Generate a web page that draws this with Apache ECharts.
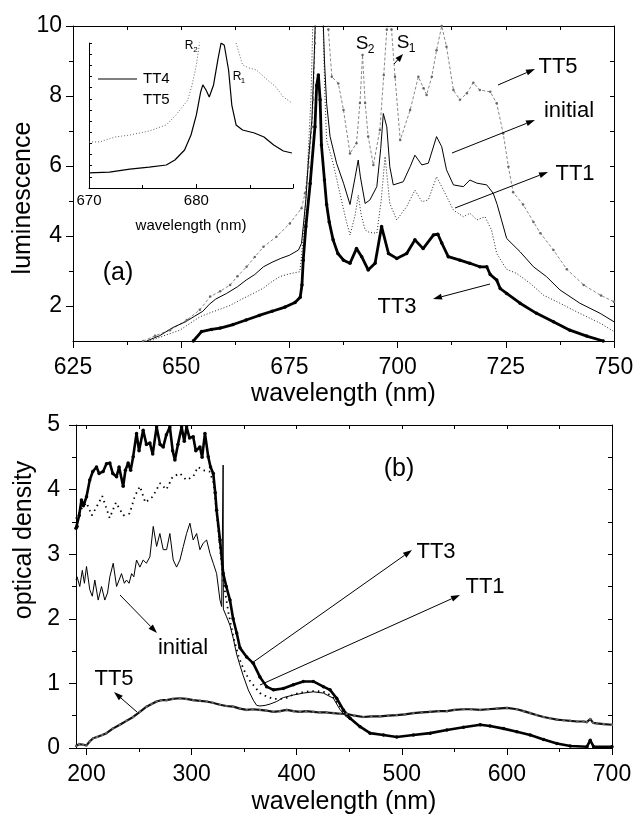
<!DOCTYPE html>
<html><head><meta charset="utf-8">
<script src="https://cdn.jsdelivr.net/npm/echarts@6/dist/echarts.min.js"></script>
<style>html,body{margin:0;padding:0;background:#fff}#c{width:638px;height:822px}</style>
</head><body><div id="c"></div><script>
// ---------- (a) luminescence, wavelength (nm) ----------
const lumTT5 = [[641.2,1.0],[644,1.15],[647.4,1.31],[651.3,1.6],[654.3,1.89],[656.7,2.27],[659,2.42],[661.3,2.6],[663,2.85],[665.1,3.12],[667,3.4],[669,3.69],[672,3.98],[675.1,4.36],[677.8,4.79],[678.6,5.22],[679.4,5.98],[680.2,7.12],[680.5,7.89],[680.9,9.5],[681.3,11],[683.4,11],[684,9.9],[684.8,8.55],[686.3,8.36],[687.5,7.6],[689,6.36],[690.5,6.65],[691.3,7.8],[691.9,9.17],[692.5,7.8],[693.2,6.84],[694.4,6.03],[695.9,7.03],[696.8,8.6],[697.5,9.89],[697.9,10.4],[698.6,9.9],[699.4,8.55],[700.6,6.74],[702.9,7.6],[704.8,8.55],[706,8.22],[706.7,8.03],[707.9,8.55],[709,9.31],[710.2,10.0],[711.3,9.41],[712.9,8.17],[714.4,7.89],[716,8.08],[717.5,8.38],[719,8.17],[721.4,8.12],[722.9,7.79],[724.4,6.93],[725.6,5.98],[726.7,5.25],[729,4.9],[731.4,4.4],[733,4.08],[736,3.6],[739.1,3.05],[743,2.6],[747,2.3],[750,2.12]];
const lumInitial = [[642,1.0],[645,1.15],[648,1.38],[651,1.55],[653,1.7],[655,1.85],[656.5,2.05],[658,2.2],[660.5,2.36],[663,2.55],[665,2.74],[667,2.9],[669,3.12],[671,3.25],[673,3.36],[675,3.45],[677.1,3.6],[677.8,3.79],[678.2,4.27],[678.8,5.03],[679.4,6.17],[680.2,7.31],[680.7,9],[681.2,11],[682.6,11],[683.1,9],[683.6,7.79],[684.4,6.84],[685.9,6.08],[687.5,5.51],[689,4.9],[690.2,5.69],[690.9,6.17],[691.4,5.69],[692.5,4.93],[693.6,5.03],[695.2,5.41],[696.1,6.5],[696.7,7.5],[697.5,7.12],[698.2,5.98],[699,5.46],[701.3,5.55],[702.9,5.98],[704,6.31],[705.6,6.03],[707.1,6.08],[709,6.84],[710.2,6.55],[711.3,5.89],[712.9,5.46],[715.2,5.41],[716.7,5.6],[718.3,5.51],[720.6,5.46],[722.1,5.22],[723,4.9],[724,4.46],[725.2,3.93],[728.3,3.55],[731.4,3.12],[734.4,2.84],[737.5,2.46],[742.1,2.08],[746.8,1.79],[750,1.55]];
const lumTT1 = [[642.8,1.0],[646,1.15],[649.7,1.31],[652,1.5],[654.3,1.69],[657,1.82],[659,1.91],[661,2.0],[664.4,2.22],[667,2.38],[669,2.51],[671,2.7],[672.8,2.84],[675,2.92],[677.4,2.98],[677.8,3.41],[678.5,4.5],[679.2,6],[680,8],[680.6,11],[682.6,11],[683.2,8],[683.6,6.74],[685.1,6.08],[686.7,5.2],[688,4.5],[689,4.03],[690.2,4.6],[690.9,5.17],[691.6,4.6],[692.5,4.17],[693.5,4.1],[695.2,4.08],[696.2,5.0],[697.1,6.27],[698.2,4.93],[699.8,4.46],[702.1,4.84],[704,5.31],[705.6,4.98],[707.1,5.03],[709,5.69],[710.6,5.31],[712.9,4.74],[715.2,4.55],[716.7,4.65],[718.3,4.46],[720.2,4.55],[721.7,4.17],[722.9,3.5],[724.4,3.2],[725.2,3.05],[727.5,2.93],[730.6,2.65],[733.7,2.31],[737.5,2.08],[742.1,1.79],[746.8,1.51],[750,1.27]];
const lumTT3 = [[652.8,1.0],[654.7,1.27],[657,1.33],[659,1.37],[662,1.47],[665,1.6],[668,1.73],[671,1.85],[674,1.97],[676.3,2.1],[677.5,2.25],[677.9,2.6],[678.2,3.31],[678.8,4.27],[679.8,5.5],[680.9,7.12],[681.3,8.3],[681.7,8.6],[682.1,7.89],[682.4,6.6],[683.1,5.6],[683.6,4.9],[684.2,4.4],[685.1,3.89],[686.2,3.5],[687.5,3.31],[689,3.22],[690.5,3.64],[691.7,3.41],[693.2,3.03],[694.8,3.22],[696.3,4.27],[697.9,3.5],[699.8,3.36],[702.1,3.5],[704,3.89],[705.9,3.64],[708.3,4.03],[709.3,4.05],[710.2,3.8],[711.7,3.41],[714.4,3.31],[716.7,3.22],[719,3.12],[720.6,3.12],[721.4,2.9],[722.9,2.74],[723.7,2.5],[725.2,2.36],[728.3,2.08],[732.1,1.79],[736,1.55],[739.8,1.31],[743.7,1.14],[747.5,1.0]];
// inset (relative units)
const insetTT4 = [[670,1.35],[671.9,1.43],[673.8,1.7],[675.6,1.88],[677.2,2.06],[678,2.51],[678.9,3.41],[679.5,4.75],[680,6.55],[680.4,8.61],[680.6,9.24],[680.9,8.79],[681.2,8.16],[681.6,9.24],[682,11.48],[682.3,13.0],[682.6,12.8],[683,10.58],[683.3,7.44],[683.7,5.65],[684.3,5.2],[685.4,4.93],[686.3,4.57],[687.2,3.86],[688.1,3.32],[688.9,3.14]];
const insetTT5 = [[670,4.13],[671,4.13],[672.4,4.57],[673.8,4.75],[675.6,5.11],[677.2,5.65],[678.1,6.55],[679.2,7.89],[679.6,9.24],[680,11.03],[680.3,13.0],[680.6,15],[683.4,15],[683.7,13.0],[684.3,11.03],[684.9,10.76],[685.6,10.58],[686.3,9.96],[687.4,9.06],[688.1,8.16],[688.9,7.62]];
// ---------- (b) optical density, wavelength (nm) ----------
const odTT3 = [[190,3.4],[191,3.43],[193,3.6],[195.2,3.84],[197,3.75],[200,3.89],[203.1,4.15],[206,4.28],[209.5,4.35],[212,4.25],[215.8,4.28],[219,4.4],[222.2,4.41],[225,4.25],[228.6,4.2],[231,4.35],[234.9,4.05],[237,4.3],[239.6,4.41],[242,4.3],[244.4,4.51],[247.6,4.87],[250,4.6],[253.9,4.92],[257,4.7],[260.3,4.72],[263,4.55],[266.7,4.97],[270,4.7],[273,4.66],[276,4.85],[279.3,4.97],[282,4.6],[284.1,4.46],[287,4.7],[290.5,4.97],[293,4.75],[295.2,4.97],[298,4.8],[301.5,4.82],[304,4.6],[307.9,4.66],[310,4.5],[312.7,4.87],[315.8,4.51],[318,4.35],[320.6,4.25],[322.5,3.95],[323.8,3.68],[327,3.22],[330.1,2.7],[333,2.5],[336.5,2.29],[339.5,2.0],[342.9,1.78],[346,1.55],[352.4,1.41],[358.7,1.31],[365,1.1],[371.4,0.95],[377.8,0.9],[387.2,0.92],[396.8,0.98],[406.3,1.03],[415.8,1.03],[425.4,0.95],[431.7,0.9],[438,0.77],[444.4,0.59],[450.8,0.46],[460.3,0.33],[469.8,0.23],[482.5,0.2],[495.2,0.17],[511,0.2],[527,0.23],[542.9,0.28],[558.7,0.32],[574.6,0.36],[584,0.34],[596.8,0.3],[609.5,0.25],[622.2,0.2],[634.9,0.13],[647.6,0.07],[660.3,0.03],[676.2,0.02],[679.3,0.12],[682.5,0.02],[700,0.02]];
const odTT1 = [[190,3.55],[195,3.7],[200,3.8],[205,3.6],[209.5,3.73],[215,3.9],[222,3.56],[228,3.8],[235,3.6],[241,3.63],[246,3.9],[250.8,4.05],[256,3.8],[263,3.89],[270,4.1],[276,4.0],[282,4.2],[288.9,4.25],[295,4.15],[301.5,4.2],[306,4.35],[311,4.3],[317,4.28],[321,4.1],[324,3.6],[327,3.1],[330,2.6],[335,2.1],[340,1.7],[345,1.4],[350,1.2],[355,1.05],[360,0.95],[365,0.85],[371,0.8],[378,0.76],[384,0.76],[391,0.78],[397,0.83],[405,0.86],[412,0.88],[420,0.88],[428,0.86],[435,0.78],[441,0.65],[446,0.52],[451,0.45],[460,0.33]];
const odInitial = [[190,2.6],[191,2.65],[193.6,2.5],[196,2.75],[198,2.55],[200,2.81],[203.1,2.45],[205.5,2.35],[207.9,2.6],[211.1,2.29],[214.3,2.5],[217.4,2.29],[220,2.4],[222.2,2.65],[225.4,2.86],[228.6,2.5],[231,2.6],[233.3,2.7],[236,2.55],[238.1,2.6],[240.5,2.55],[242.9,2.7],[245,2.65],[247.6,2.91],[250.8,2.8],[253.9,2.91],[257,2.86],[260.3,2.96],[263.5,3.43],[266.7,3.12],[269.8,3.32],[273,3.07],[276.2,3.07],[279.3,3.32],[282.5,2.91],[285.7,2.8],[288.9,2.91],[292.1,3.12],[295.2,3.32],[298.4,3.48],[301.5,3.22],[304.8,3.32],[307.9,3.07],[311,3.17],[314.3,3.22],[317.5,3.01],[320.6,2.86],[323.8,2.7],[327,2.29],[328.6,2.19],[329.8,2.2],[330,4.38],[330.2,2.15],[333.3,2.03],[336.5,1.9],[339.6,1.7],[342.9,1.45],[346,1.28],[349.1,1.12],[353.9,0.9],[358.7,0.74],[361.9,0.66],[365,0.65],[370,0.66],[374.6,0.68],[381,0.72],[387.2,0.78],[396.8,0.82],[406.3,0.85],[415.8,0.87],[425.4,0.85],[434.9,0.77],[441,0.6],[446,0.5],[451,0.44]];
const odTT5 = [[190,0.03],[193,0.06],[196.8,0.05],[200,0.04],[203,0.1],[206.3,0.15],[210,0.17],[215,0.2],[219,0.23],[225,0.3],[231.7,0.36],[238,0.42],[244.4,0.48],[250.8,0.56],[257.1,0.64],[262,0.68],[266.7,0.72],[271,0.74],[276.2,0.74],[282,0.76],[288.9,0.77],[295,0.76],[301.6,0.74],[308,0.73],[314.3,0.72],[320,0.7],[327,0.67],[333,0.65],[339.6,0.64],[346,0.61],[352.4,0.59],[358,0.6],[365,0.59],[371,0.58],[377.8,0.56],[384,0.57],[390.5,0.59],[397,0.57],[403.1,0.56],[409,0.57],[415.8,0.56],[422,0.55],[428.6,0.55],[435,0.54],[441.3,0.53],[447.6,0.53],[455,0.5],[463.5,0.48],[471,0.49],[479.4,0.49],[487,0.5],[495.2,0.51],[503,0.52],[511,0.54],[519,0.55],[527,0.56],[535,0.57],[542.9,0.57],[550,0.59],[558.7,0.6],[566,0.6],[574.6,0.59],[582,0.6],[590.5,0.61],[600,0.62],[609.5,0.6],[616,0.57],[622.2,0.54],[628,0.51],[634.9,0.48],[641,0.46],[647.6,0.44],[654,0.43],[660.3,0.42],[667,0.41],[673,0.41],[676,0.4],[679.3,0.45],[682,0.39],[685.7,0.38],[692,0.37],[700,0.36]];
// tick values
const yLabelsA = [2,4,6,8,10];
const yMinorA = [3,5,7,9];
const xLabelsB = [200,300,400,500,600,700];
const xMinorB = [250,350,450,550,650];
const xTopB = [200,250,300,350,400,450,500,550,600,650,700];

const FONT = 'Liberation Sans, Arial, Helvetica, sans-serif';
const K = '#000';
function ax(extra){
  return Object.assign({type:'value', splitLine:{show:false},
    axisLine:{show:true, onZero:false, lineStyle:{color:K, width:1}},
    axisLabel:{show:false}, axisTick:{show:false}, minorTick:{show:false}}, extra);
}
const tick = (o)=>Object.assign({show:true, lineStyle:{color:K, width:1}}, o);
const lab = (o)=>Object.assign({show:true, color:K, fontFamily:FONT}, o);

function mk(name, data, xi, yi, extra){
  return Object.assign({type:'line', name, data, xAxisIndex:xi, yAxisIndex:yi,
    showSymbol:false, silent:true, animation:false, clip:true}, extra);
}

const option = {
  animation:false,
  backgroundColor:'#fff',
  textStyle:{fontFamily:FONT},
  grid:[
    {left:73, top:26, width:541, height:315},
    {left:76, top:425, width:536, height:323},
    {left:89, top:43, width:204, height:145}
  ],
  xAxis:[
    ax({gridIndex:0, position:'bottom', min:625, max:750, interval:25,
      axisTick:tick({length:7}), minorTick:tick({splitNumber:2, length:4}),
      axisLabel:lab({fontSize:23, margin:15}),
      name:'wavelength (nm)', nameLocation:'middle', nameGap:41,
      nameTextStyle:{fontSize:25, color:K, fontFamily:FONT}}),
    ax({gridIndex:0, position:'top', min:625, max:750, interval:12.5,
      axisTick:tick({inside:true, length:4})}),
    ax({gridIndex:1, position:'bottom', min:190, max:700,
      axisTick:tick({length:7, customValues:xLabelsB}),
      axisLabel:lab({fontSize:23, margin:15, customValues:xLabelsB}),
      name:'wavelength (nm)', nameLocation:'middle', nameGap:42,
      nameTextStyle:{fontSize:25, color:K, fontFamily:FONT}}),
    ax({gridIndex:1, position:'bottom', min:190, max:700, axisLine:{show:false},
      axisTick:tick({length:4, customValues:xMinorB})}),
    ax({gridIndex:1, position:'top', min:190, max:700,
      axisTick:tick({inside:true, length:4, customValues:xTopB})}),
    ax({gridIndex:2, position:'bottom', min:670, max:689, interval:10,
      axisTick:tick({inside:true, length:4}), minorTick:tick({splitNumber:2, length:3}),
      axisLabel:lab({fontSize:15, margin:5, showMaxLabel:false}),
      name:'wavelength (nm)', nameLocation:'middle', nameGap:30,
      nameTextStyle:{fontSize:15, color:K, fontFamily:FONT}})
  ],
  yAxis:[
    ax({gridIndex:0, position:'left', min:1, max:10,
      axisTick:tick({length:7, customValues:yLabelsA}),
      axisLabel:lab({fontSize:23, margin:11, customValues:yLabelsA})}),
    ax({gridIndex:0, position:'left', min:1, max:10, axisLine:{show:false},
      axisTick:tick({length:4, customValues:yMinorA})}),
    ax({gridIndex:0, position:'right', min:1, max:10, interval:1,
      axisTick:tick({inside:true, length:4})}),
    ax({gridIndex:1, position:'left', min:0, max:5, interval:1,
      axisTick:tick({length:7}), minorTick:tick({splitNumber:2, length:4}),
      axisLabel:lab({fontSize:23, margin:16})}),
    ax({gridIndex:1, position:'right', min:0, max:5, interval:0.5,
      axisTick:tick({inside:true, length:4})}),
    ax({gridIndex:2, position:'left', min:0, max:13, interval:1,
      axisTick:tick({inside:true, length:3})})
  ],
  series:[
    mk('TT5', lumTT5, 0, 0, {showSymbol:true, showAllSymbol:true, symbol:'circle', symbolSize:2.5,
      itemStyle:{color:'#666'}, lineStyle:{color:'#888', width:1, type:[3,2]}}),
    mk('initial', lumInitial, 0, 0, {lineStyle:{color:K, width:1}}),
    mk('TT1', lumTT1, 0, 0, {lineStyle:{color:'#222', width:1, type:[1,2]}}),
    mk('TT3', lumTT3, 0, 0, {showSymbol:true, showAllSymbol:true, symbol:'circle', symbolSize:3.5,
      itemStyle:{color:K}, lineStyle:{color:K, width:2.8}}),
    mk('TT4 inset', insetTT4, 5, 5, {lineStyle:{color:K, width:1.2}}),
    mk('TT5 inset', insetTT5, 5, 5, {lineStyle:{color:'#666', width:1, type:[1,2]}}),
    mk('TT5 OD', odTT5, 2, 3, {showSymbol:true, showAllSymbol:true, symbol:'circle', symbolSize:2.5,
      itemStyle:{color:'#666'}, lineStyle:{color:'#111', width:2.2}}),
    mk('initial OD', odInitial, 2, 3, {lineStyle:{color:K, width:1}}),
    mk('TT1 OD', odTT1, 2, 3, {lineStyle:{color:K, width:1.8, type:[1.5,4]}}),
    mk('TT3 OD', odTT3, 2, 3, {showSymbol:true, showAllSymbol:true, symbol:'circle', symbolSize:3.5,
      itemStyle:{color:K}, lineStyle:{color:K, width:2.6}})
  ]
};

// annotations (layout only)
function txt(t, x, y, fs, extra){
  return Object.assign({type:'text', x, y, silent:true, z:10,
    style:{text:t, fontSize:fs, fontFamily:FONT, fill:K, align:'center', verticalAlign:'middle'}}, extra||{});
}
function arrow(x1,y1,x2,y2,hl,hw){
  hl = hl||9; hw = hw||3;
  const dx=x2-x1, dy=y2-y1, L=Math.hypot(dx,dy), ux=dx/L, uy=dy/L;
  const bx=x2-ux*hl, by=y2-uy*hl;
  return [
    {type:'line', silent:true, z:10, shape:{x1:x1,y1:y1,x2:bx,y2:by}, style:{stroke:K, lineWidth:1}},
    {type:'polygon', silent:true, z:10, shape:{points:[[x2,y2],[bx-uy*hw,by+ux*hw],[bx+uy*hw,by-ux*hw]]}, style:{fill:K}}
  ];
}
const graphics = [
  txt('luminescence', 23, 198, 25, {rotation:Math.PI/2}),
  txt('optical density', 24, 540, 25, {rotation:Math.PI/2}),
  txt('(a)', 118, 273, 25),
  txt('(b)', 399, 469, 25),
  txt('S', 362, 44, 19), txt('2', 371, 50, 12),
  txt('S', 403, 43, 19), txt('1', 412, 49, 12),
  txt('TT5', 558, 67, 22),
  txt('initial', 569, 111, 22),
  txt('TT1', 575, 174, 22),
  txt('TT3', 397, 307, 22),
  txt('TT4', 143, 79, 15, {style:{text:'TT4', fontSize:15, fontFamily:FONT, fill:K, align:'left', verticalAlign:'middle'}}),
  txt('TT5', 143, 100, 15, {style:{text:'TT5', fontSize:15, fontFamily:FONT, fill:K, align:'left', verticalAlign:'middle'}}),
  {type:'line', silent:true, z:10, shape:{x1:98,y1:79,x2:137,y2:79}, style:{stroke:K, lineWidth:1.2}},
  txt('R', 189, 46, 12), txt('2', 195.5, 50, 8),
  txt('R', 237, 77, 12), txt('1', 243, 81, 8),
  txt('TT3', 436, 552, 22),
  txt('TT1', 485, 587, 22),
  txt('initial', 183, 648, 22),
  txt('TT5', 114, 679, 22)
].concat(
  arrow(394,64,403,54,8,3),
  arrow(498,85,535,69),
  arrow(452,153,535,120),
  arrow(455,208,548,172),
  arrow(490,284,433,299),
  arrow(252,663,412,550),
  arrow(260,685,460,595),
  arrow(120,595,157,633),
  arrow(137,712,114,692)
);
option.graphic = graphics;

const chart = echarts.init(document.getElementById('c'), null, {renderer:'canvas'});
chart.setOption(option);
</script></body></html>
